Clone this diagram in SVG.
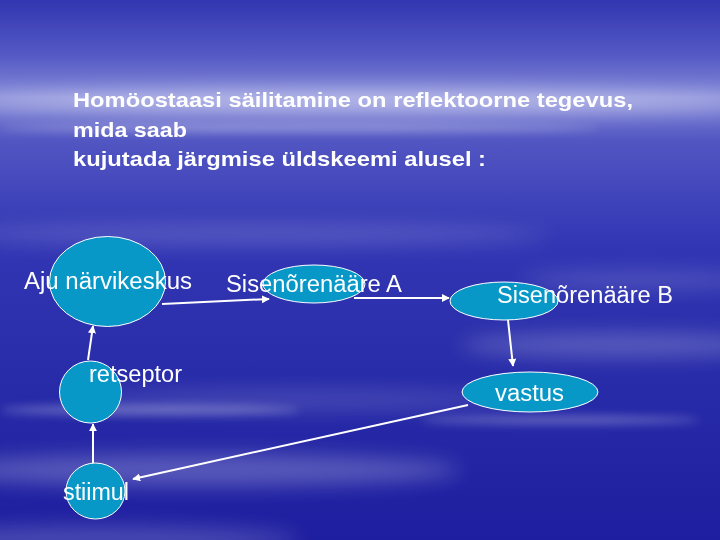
<svg xmlns="http://www.w3.org/2000/svg" width="720" height="540" viewBox="0 0 720 540">
  <defs>
    <linearGradient id="bg" x1="0" y1="0" x2="0" y2="1">
      <stop offset="0" stop-color="#3236b0"/>
      <stop offset="0.1" stop-color="#5358c4"/>
      <stop offset="0.18" stop-color="#8489d8"/>
      <stop offset="0.26" stop-color="#5256c2"/>
      <stop offset="0.45" stop-color="#3236b4"/>
      <stop offset="0.65" stop-color="#2a2eaa"/>
      <stop offset="1" stop-color="#1e1ea0"/>
    </linearGradient>
    <filter id="blur" x="-20%" y="-200%" width="140%" height="500%">
      <feGaussianBlur stdDeviation="10"/>
    </filter>
    <filter id="blur2" x="-20%" y="-200%" width="140%" height="500%">
      <feGaussianBlur stdDeviation="5"/>
    </filter>
    <marker id="arr" viewBox="0 0 10 10" refX="9" refY="5" markerWidth="4" markerHeight="4" orient="auto" markerUnits="strokeWidth">
      <path d="M0,0 L10,5 L0,10 z" fill="#ffffff"/>
    </marker>
  </defs>
  <style>
    .node { fill: #0798c8; stroke: #ffffff; stroke-width: 1; }
    .lbl { font-family: "Liberation Sans", Arial, sans-serif; font-size: 23px; fill: #ffffff; }
    .title { font-family: "Liberation Sans", Arial, sans-serif; font-size: 21px; font-weight: bold; fill: #ffffff; }
    .conn { stroke: #ffffff; stroke-width: 2; fill: none; marker-end: url(#arr); }
    .cloud { fill: #ffffff; }
  </style>

  <!-- background -->
  <rect x="0" y="0" width="720" height="540" fill="url(#bg)"/>
  <g opacity="0.5" filter="url(#blur)">
    <ellipse class="cloud" cx="360" cy="102" rx="400" ry="12" opacity="0.9"/>
    <ellipse class="cloud" cx="250" cy="235" rx="300" ry="10" opacity="0.35"/>
    <ellipse class="cloud" cx="620" cy="345" rx="160" ry="12" opacity="0.45"/>
    <ellipse class="cloud" cx="200" cy="470" rx="260" ry="16" opacity="0.5"/>
    <ellipse class="cloud" cx="100" cy="540" rx="200" ry="14" opacity="0.4"/>
    <ellipse class="cloud" cx="300" cy="400" rx="220" ry="10" opacity="0.3"/>
    <ellipse class="cloud" cx="640" cy="280" rx="120" ry="8" opacity="0.35"/>
  </g>
  <g opacity="0.3" filter="url(#blur2)">
    <ellipse class="cloud" cx="300" cy="128" rx="300" ry="4"/>
    <ellipse class="cloud" cx="150" cy="410" rx="150" ry="5"/>
    <ellipse class="cloud" cx="560" cy="420" rx="140" ry="4"/>
  </g>

  <!-- title -->
  <g id="title">
    <text class="title" x="73" y="107" textLength="560" lengthAdjust="spacingAndGlyphs">Homöostaasi säilitamine on reflektoorne tegevus,</text>
    <text class="title" x="73" y="137" textLength="114" lengthAdjust="spacingAndGlyphs">mida saab</text>
    <text class="title" x="73" y="166" textLength="413" lengthAdjust="spacingAndGlyphs">kujutada järgmise üldskeemi alusel :</text>
  </g>

  <!-- connectors -->
  <g id="connectors">
    <line class="conn" x1="162" y1="304" x2="269" y2="299"/>
    <line class="conn" x1="354" y1="298" x2="449" y2="298"/>
    <line class="conn" x1="508" y1="320" x2="513" y2="366"/>
    <line class="conn" x1="468" y1="405" x2="133" y2="479"/>
    <line class="conn" x1="88" y1="360" x2="93" y2="326"/>
    <line class="conn" x1="93" y1="463" x2="93" y2="424"/>
  </g>

  <!-- nodes -->
  <g id="aju">
    <ellipse class="node" cx="107.5" cy="281.5" rx="58" ry="45"/>
    <text class="lbl" x="24" y="289" textLength="168" lengthAdjust="spacingAndGlyphs">Aju närvikeskus</text>
  </g>
  <g id="sisA">
    <ellipse class="node" cx="314" cy="284" rx="51" ry="19"/>
    <text class="lbl" x="226" y="292" textLength="176" lengthAdjust="spacingAndGlyphs">Sisenõrenääre A</text>
  </g>
  <g id="sisB">
    <ellipse class="node" cx="504" cy="301" rx="54" ry="19"/>
    <text class="lbl" x="497" y="303" textLength="176" lengthAdjust="spacingAndGlyphs">Sisenõrenääre B</text>
  </g>
  <g id="vastus">
    <ellipse class="node" cx="530" cy="392" rx="68" ry="20"/>
    <text class="lbl" x="495" y="401" textLength="69" lengthAdjust="spacingAndGlyphs">vastus</text>
  </g>
  <g id="retseptor">
    <ellipse class="node" cx="90.5" cy="392" rx="31" ry="31"/>
    <text class="lbl" x="89" y="382" textLength="93" lengthAdjust="spacingAndGlyphs">retseptor</text>
  </g>
  <g id="stiimul">
    <ellipse class="node" cx="95.5" cy="491" rx="29.5" ry="28"/>
    <text class="lbl" x="63" y="500" textLength="66" lengthAdjust="spacingAndGlyphs">stiimul</text>
  </g>
</svg>
